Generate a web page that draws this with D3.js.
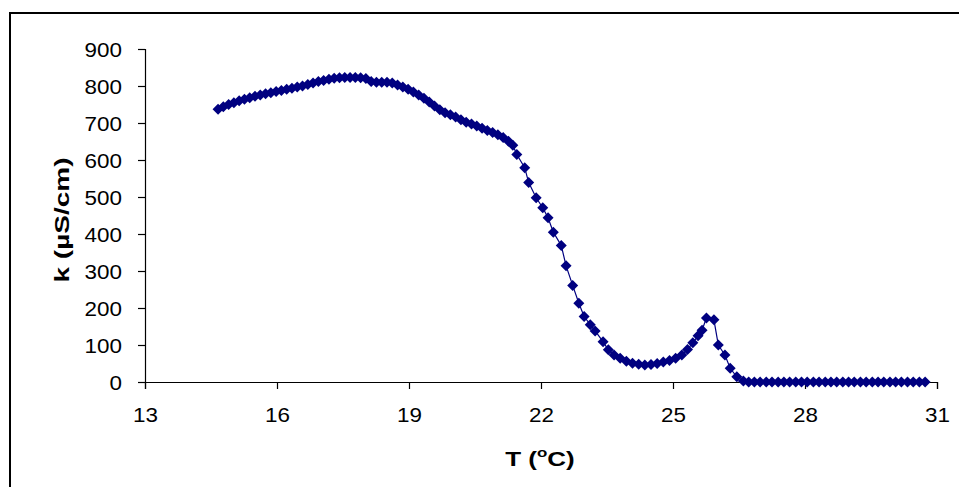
<!DOCTYPE html>
<html>
<head>
<meta charset="utf-8">
<script src="https://cdn.jsdelivr.net/npm/d3@7"></script>
<style>
  body { margin: 0; background: #fff; }
  svg { display: block; }
  text { font-family: "Liberation Sans", Arial, sans-serif; fill: #000; }
</style>
</head>
<body>
<div id="chart"></div>
<script>
var width = 959, height = 487;

// temperature (°C) readings
var temps = [14.66, 14.78, 14.90, 15.02, 15.14, 15.26, 15.38, 15.50, 15.62, 15.74,
  15.86, 15.98, 16.10, 16.22, 16.34, 16.46, 16.58, 16.70, 16.82, 16.94,
  17.06, 17.18, 17.30, 17.42, 17.54, 17.66, 17.78, 17.90, 18.02, 18.14,
  18.26, 18.38, 18.50, 18.62, 18.74, 18.86, 18.98, 19.10, 19.22, 19.34,
  19.46, 19.58, 19.70, 19.82, 19.94, 20.06, 20.18, 20.30, 20.42, 20.54,
  20.66, 20.78, 20.90, 21.02, 21.14, 21.26, 21.36, 21.45, 21.63, 21.72,
  21.89, 22.04, 22.16, 22.28, 22.46, 22.57, 22.72, 22.86, 22.98, 23.12,
  23.23, 23.41, 23.53, 23.66, 23.80, 23.94, 24.08, 24.22, 24.36, 24.50,
  24.64, 24.78, 24.92, 25.06, 25.20, 25.33, 25.45, 25.57, 25.66, 25.76,
  25.93, 26.03, 26.18, 26.30, 26.45, 26.60, 26.72, 26.85, 26.98, 27.12,
  27.25, 27.39, 27.52, 27.65, 27.79, 27.92, 28.05, 28.19, 28.32, 28.46,
  28.59, 28.72, 28.86, 28.99, 29.12, 29.26, 29.39, 29.53, 29.66, 29.79,
  29.93, 30.06, 30.19, 30.33, 30.46, 30.60, 30.73];

// conductivity (µS/cm)
var kvals = [737, 744, 750, 755, 760, 764, 768, 772, 776, 779,
  782, 785, 788, 791, 794, 797, 800, 804, 808, 812,
  815, 818, 821, 822, 823, 823, 823, 822, 820, 812,
  810, 810, 810, 808, 803, 797, 791, 784, 776, 767,
  757, 746, 736, 728, 722, 716, 709, 702, 697, 692,
  686, 680, 674, 668, 661, 651, 640, 615, 579, 539,
  498, 471, 444, 405, 369, 314, 261, 213, 177, 155,
  138, 109, 87, 73, 64, 56, 51, 48, 46, 47,
  50, 54, 58, 64, 73, 88, 106, 125, 140, 173,
  168, 100, 73, 37, 14, 3, 0, 0, 0, 0,
  0, 0, 0, 0, 0, 0, 0, 0, 0, 0,
  0, 0, 0, 0, 0, 0, 0, 0, 0, 0,
  0, 0, 0, 0, 0, 0, 0];

var xTicks = [13, 16, 19, 22, 25, 28, 31];
var yTicks = [0, 100, 200, 300, 400, 500, 600, 700, 800, 900];

var data = temps.map(function (t, i) { return { t: t, k: kvals[i] }; });

var svg = d3.select("#chart").append("svg")
  .attr("width", width)
  .attr("height", height);

// outer chart frame (runs off the right and bottom edges)
svg.append("rect")
  .attr("x", 10).attr("y", 13)
  .attr("width", 1000).attr("height", 600)
  .attr("fill", "none")
  .attr("stroke", "#000")
  .attr("stroke-width", 2);

var x = d3.scaleLinear().domain([13, 31]).range([145, 937]);
var y = d3.scaleLinear().domain([0, 900]).range([382, 49]);

var stretch = 1.15;

// y axis
var yAxis = svg.append("g")
  .attr("transform", "translate(145,0)")
  .call(d3.axisLeft(y).tickValues(yTicks).tickSize(7).tickSizeOuter(7));
yAxis.select(".domain").attr("stroke", "#000").attr("stroke-width", 1.2);
yAxis.selectAll(".tick line").attr("stroke", "#000").attr("stroke-width", 1.2);
yAxis.selectAll(".tick text").remove();
yAxis.selectAll(".tick").append("text")
  .attr("text-anchor", "end")
  .attr("transform", "translate(-23,7) scale(" + stretch + ",1)")
  .style("font-size", "19.5px")
  .text(function (d) { return d; });

// x axis
var xAxis = svg.append("g")
  .attr("transform", "translate(0,382)")
  .call(d3.axisBottom(x).tickValues(xTicks).tickSize(7).tickSizeOuter(7));
xAxis.select(".domain").attr("stroke", "#000").attr("stroke-width", 1.2);
xAxis.selectAll(".tick line").attr("stroke", "#000").attr("stroke-width", 1.2);
xAxis.selectAll(".tick text").remove();
xAxis.selectAll(".tick").append("text")
  .attr("text-anchor", "middle")
  .attr("transform", "translate(0,40) scale(" + stretch + ",1)")
  .style("font-size", "19.5px")
  .text(function (d) { return d; });

// series line
var line = d3.line()
  .x(function (d) { return x(d.t); })
  .y(function (d) { return y(d.k); });

svg.append("path")
  .datum(data)
  .attr("d", line)
  .attr("fill", "none")
  .attr("stroke", "#000080")
  .attr("stroke-width", 1.2);

// diamond markers
svg.selectAll(".marker")
  .data(data)
  .enter()
  .append("path")
  .attr("class", "marker")
  .attr("d", "M0,-5.5L5.5,0L0,5.5L-5.5,0Z")
  .attr("transform", function (d) { return "translate(" + x(d.t) + "," + y(d.k) + ")"; })
  .attr("fill", "#000080");

// axis titles
svg.append("text")
  .attr("transform", "translate(69,220) rotate(-90) scale(1.4,1)")
  .attr("text-anchor", "middle")
  .style("font-size", "20px")
  .style("font-weight", "bold")
  .text("k (µS/cm)");

var xt = svg.append("text")
  .attr("transform", "translate(540,466) scale(1.3,1)")
  .attr("text-anchor", "middle")
  .style("font-size", "20px")
  .style("font-weight", "bold");
xt.append("tspan").text("T (");
xt.append("tspan").attr("dy", -9).style("font-size", "13px").text("o");
xt.append("tspan").attr("dy", 9).text("C)");
</script>
</body>
</html>
